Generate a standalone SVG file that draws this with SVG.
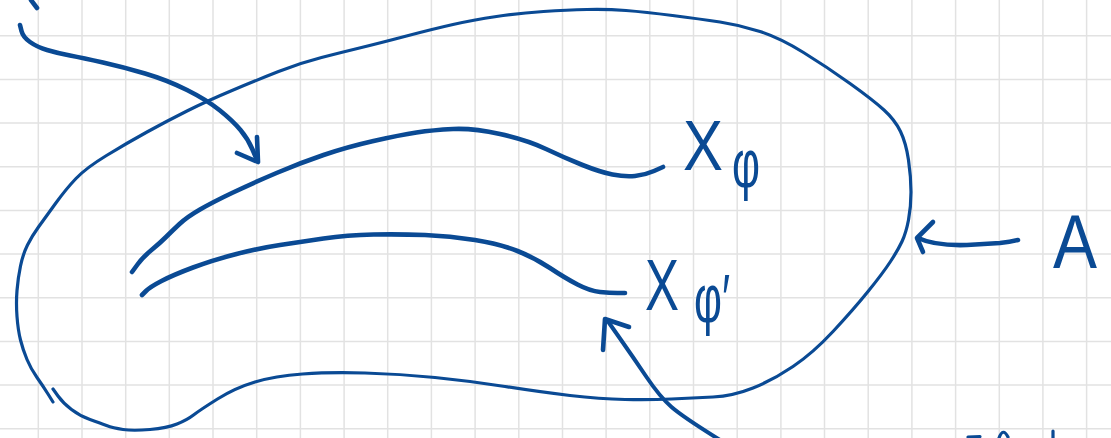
<svg xmlns="http://www.w3.org/2000/svg" width="1111" height="438" viewBox="0 0 1111 438">
<style>
.grid{stroke:#e2e2e2;stroke-width:1.5;fill:none}
.ink{fill:none;stroke:#0a4a94;stroke-linecap:round;stroke-linejoin:round}
.thin{stroke-width:3.2}
.thick{stroke-width:4.6}
.lbl{font-family:"Liberation Sans",Arial,sans-serif;fill:#0a4a94}
</style>
<rect width="1111" height="438" fill="#ffffff"/>
<g id="grid" class="grid">
<path d="M38.3,0V438M82,0V438M125.7,0V438M169.3,0V438M213,0V438M256.7,0V438M300.4,0V438M344.1,0V438M387.7,0V438M431.4,0V438M475.1,0V438M518.8,0V438M562.5,0V438M606.1,0V438M649.8,0V438M693.5,0V438M737.2,0V438M780.9,0V438M824.5,0V438M868.2,0V438M911.9,0V438M955.6,0V438M999.3,0V438M1042.9,0V438M1086.6,0V438"/>
<path d="M0,35.7H1111M0,79.4H1111M0,123.1H1111M0,166.7H1111M0,210.4H1111M0,254.1H1111M0,297.8H1111M0,341.5H1111M0,385.1H1111M0,428.8H1111"/>
</g>
<g id="region-A">
<path class="ink thin" d="M53,402 L48,394 Q43,386 37,377.5 Q31,369 27,359.5 Q23,350 20.5,340 Q18,330 17,316.5 Q16,303 17,290.5 Q18,278 20.5,266 Q23,254 27.5,245 Q32,236 38.5,227 Q45,218 55.5,203.5 Q66,189 76,178.5 Q86,168 106.5,155.5 Q127,143 147,132 Q167,121 187,111 Q207,101 232,90.5 Q257,80 278.5,71.5 Q300,63 321.5,57.5 Q343,52 361.5,47.5 Q380,43 406.5,36 Q433,29 453,24.5 Q473,20 496.5,16.5 Q520,13 543.5,11.5 Q567,10 587,9.5 Q607,9 626,10.5 Q645,12 672.5,15.5 Q700,19 720,22 Q740,25 760,31.5 Q780,38 803.5,52.5 Q827,67 850,83.5 Q873,100 884,110 Q895,120 900.5,131.5 Q906,143 908.5,160 Q911,177 911,192 Q911,207 908.5,220 Q906,233 902,241.5 Q898,250 890.5,261.5 Q883,273 868,291.5 Q853,310 833,331.5 Q813,353 793,366.5 Q773,380 753,388 Q733,396 713,397 Q693,398 671.5,399 Q650,400 625,399.5 Q600,399 570,395.5 Q540,392 505,386.5 Q470,381 435,377.5 Q400,374 365,373 Q330,372 302.5,374 Q275,376 255,382 Q235,388 217.5,399 Q200,410 193.5,415 Q187,420 177,424 Q167,428 150,429.5 Q133,431 123,429.5 Q113,428 106.5,425.5 Q100,423 90,419.5 Q80,416 71.5,409.5 Q63,403 58,396 L53,389"/>
<text class="lbl" x="1053" y="268" font-size="76" textLength="44" lengthAdjust="spacingAndGlyphs">A</text>
</g>
<g id="X-phi">
<path class="ink thick" d="M132,272 L137.5,264.5 Q143,257 151.5,250 Q160,243 166,237 Q172,231 179.5,224 Q187,217 200,209.5 Q213,202 233,192.5 Q253,183 276.5,173 Q300,163 323.5,155 Q347,147 373.5,141 Q400,135 416.5,132.5 Q433,130 453,129 Q473,128 500,134 Q527,140 546,149 Q565,158 582.5,165 Q600,172 612.5,174.5 Q625,177 635,176 Q645,175 654,171 L663,167"/>
<text class="lbl" x="683" y="170" font-size="70" textLength="40" lengthAdjust="spacingAndGlyphs">X</text>
<text class="lbl" x="732" y="187" font-size="68" textLength="28" lengthAdjust="spacingAndGlyphs">φ</text>
</g>
<g id="X-phi-prime">
<path class="ink thick" d="M142,295 L146,291 Q150,287 161.5,281 Q173,275 193,267.5 Q213,260 236.5,254 Q260,248 280,245 Q300,242 323.5,238.5 Q347,235 373.5,234.5 Q400,234 425,235 Q450,236 475,240 Q500,244 517.5,251 Q535,258 550,268 Q565,278 577.5,284.5 Q590,291 600,292 Q610,293 617.5,293 L625,293"/>
<text class="lbl" x="645" y="310" font-size="72" textLength="34" lengthAdjust="spacingAndGlyphs">X</text>
<text class="lbl" x="694" y="322" font-size="68" textLength="36" lengthAdjust="spacingAndGlyphs">φ′</text>
</g>
<g id="connectors">
<path class="ink thick" d="M20,25 L21.5,31 Q23,37 30,42 Q37,47 47,50 Q57,53 70,55.5 Q83,58 103,62.5 Q123,67 145,73.5 Q167,80 187,90 Q207,100 220,110.5 Q233,121 240.5,130 Q248,139 252.5,149.5 L257,160"/>
<path class="ink thick" d="M237,153 L258,162 L257,137"/>
<path class="ink thick" d="M31,0 L37,8"/>
<path class="ink" stroke-width="4" d="M607,320 L620,338.5 Q633,357 646.5,377 Q660,397 671.5,407 Q683,417 720,440"/>
<path class="ink" stroke-width="4.6" d="M603,350 L605,319 L629,327"/>
<path class="ink thick" d="M918,238 Q935,246 967,245 L1000,243 Q1010,242 1018,240"/>
<path class="ink thick" d="M933,222 L917,238 L923,252"/>
</g>
<g id="cut-off-marks">
<path class="ink thin" d="M968,437 L980,436.5 M999,438 Q1003,427 1008,437 M1053,431 L1053,438"/>
</g>
</svg>
